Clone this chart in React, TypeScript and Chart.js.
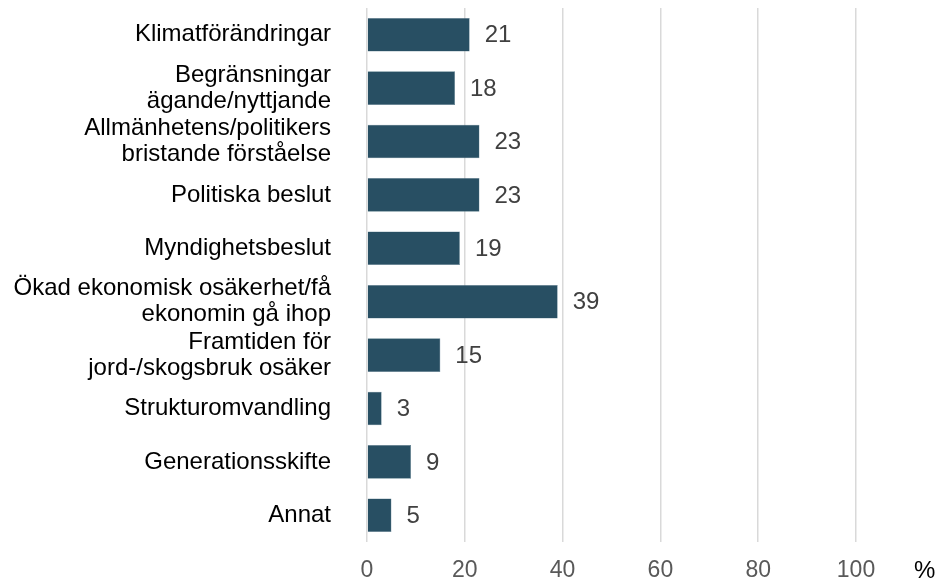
import React, { useEffect, useRef } from "react";
import { Chart, registerables } from "chart.js";

Chart.register(...registerables);

const categories: (string | string[])[] = [
  "Klimatförändringar",
  ["Begränsningar", "ägande/nyttjande"],
  ["Allmänhetens/politikers", "bristande förståelse"],
  "Politiska beslut",
  "Myndighetsbeslut",
  ["Ökad ekonomisk osäkerhet/få", "ekonomin gå ihop"],
  ["Framtiden för", "jord-/skogsbruk osäker"],
  "Strukturomvandling",
  "Generationsskifte",
  "Annat",
];
const values: number[] = [21, 18, 23, 23, 19, 39, 15, 3, 9, 5];
const xTicks: number[] = [0, 20, 40, 60, 80, 100];
const unitLabel = "%";

const FONT = "'Liberation Sans', Arial, sans-serif";

const valueLabelPlugin = {
  id: "valueLabels",
  afterDatasetsDraw(chart: any) {
    const ctx = chart.ctx;
    const meta = chart.getDatasetMeta(0);
    ctx.save();
    ctx.font = `24px ${FONT}`;
    ctx.fillStyle = "#404040";
    ctx.textAlign = "left";
    ctx.textBaseline = "middle";
    meta.data.forEach((bar: any, i: number) => {
      ctx.fillText(String(values[i]), bar.x + 15, bar.y + 1);
    });
    const xs = chart.scales.x;
    ctx.fillStyle = "#000000";
    ctx.fillText(unitLabel, 914, xs.top + 29);
    ctx.restore();
  },
};

export default function App() {
  const ref = useRef<HTMLCanvasElement>(null);
  useEffect(() => {
    document.body.style.margin = "0";
    const chart = new Chart(ref.current!, {
      type: "bar",
      data: {
        labels: categories,
        datasets: [
          {
            data: values,
            backgroundColor: "#284F63",
            borderColor: "#5f7f90",
            borderWidth: 0.5,
            barPercentage: 0.63,
            categoryPercentage: 1,
          },
        ],
      },
      options: {
        indexAxis: "y",
        animation: false,
        responsive: false,
        maintainAspectRatio: false,
        layout: { padding: { top: 8, right: 84, bottom: 0, left: 0 } },
        plugins: {
          legend: { display: false },
          tooltip: { enabled: false },
        },
        scales: {
          x: {
            min: 0,
            max: 100,
            afterBuildTicks(scale: any) {
              scale.ticks = xTicks.map((v) => ({ value: v }));
            },
            afterFit(scale: any) {
              scale.height = 38;
              scale.paddingLeft = 0;
              scale.paddingRight = 0;
            },
            grid: {
              color: "#d9d9d9",
              lineWidth: 1.5,
              drawTicks: false,
            },
            border: { display: false },
            ticks: {
              padding: 15,
              color: "#595959",
              font: { family: FONT, size: 23 },
            },
          },
          y: {
            afterFit(scale: any) {
              scale.width = 367;
              scale.paddingTop = 0;
              scale.paddingBottom = 0;
            },
            grid: { display: false, drawTicks: false },
            border: { display: false },
            ticks: {
              padding: 36,
              color: "#000000",
              font: { family: FONT, size: 24, lineHeight: 1.08 },
              autoSkip: false,
            },
          },
        },
      },
      plugins: [valueLabelPlugin],
    });
    return () => chart.destroy();
  }, []);
  return (
    <div style={{ width: 940, height: 580 }}>
      <canvas ref={ref} width={940} height={580} />
    </div>
  );
}
